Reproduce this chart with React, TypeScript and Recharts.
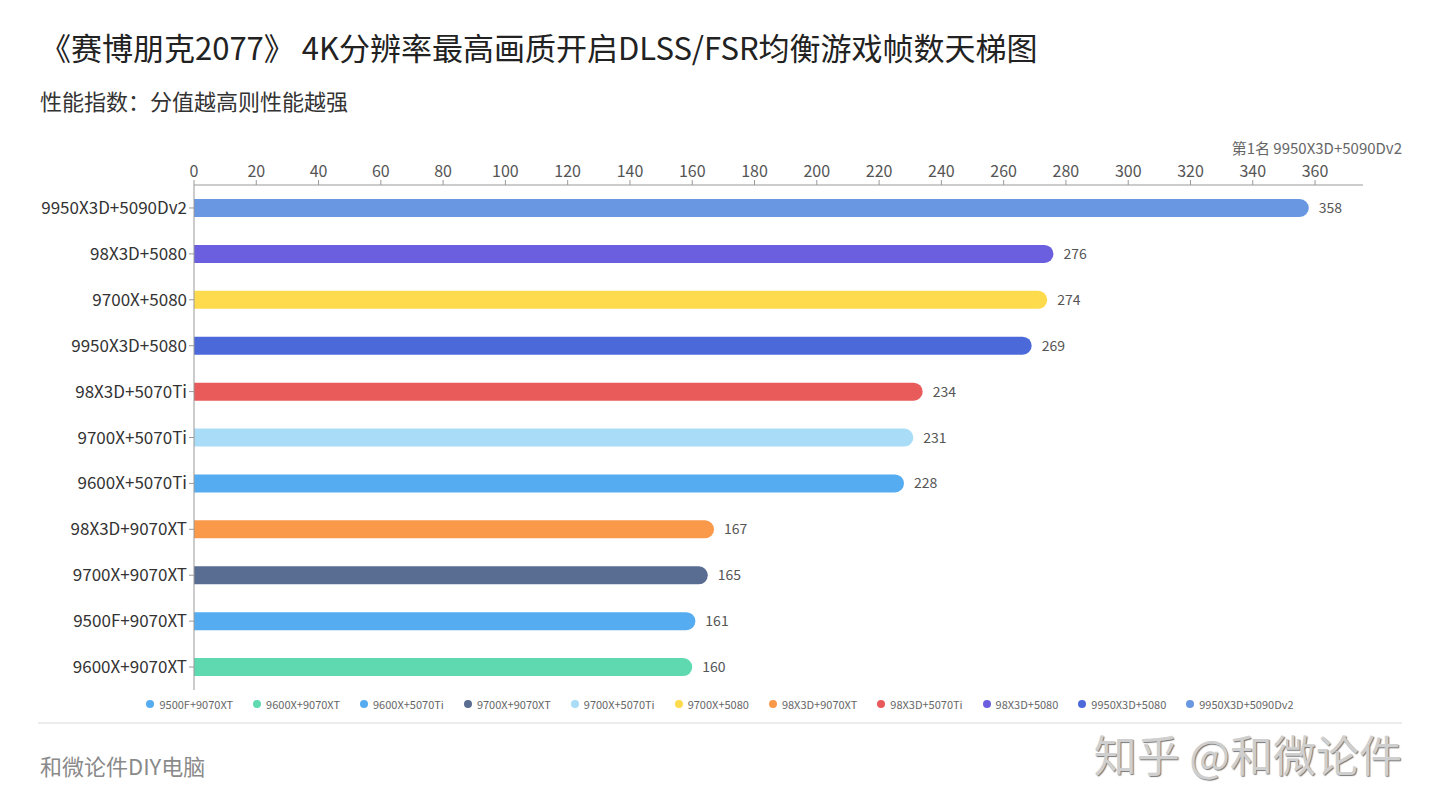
import { BarChart, Bar, XAxis, YAxis, Cell, LabelList } from 'recharts';

// chart rows, top to bottom
const configs = [
    '9950X3D+5090Dv2',
    '98X3D+5080',
    '9700X+5080',
    '9950X3D+5080',
    '98X3D+5070Ti',
    '9700X+5070Ti',
    '9600X+5070Ti',
    '98X3D+9070XT',
    '9700X+9070XT',
    '9500F+9070XT',
    '9600X+9070XT',
];
const fps = [358, 276, 274, 269, 234, 231, 228, 167, 165, 161, 160];
const barColors = [
    '#6a97e2',
    '#6b5fe0',
    '#fedb4d',
    '#4b69d9',
    '#e95b5b',
    '#a9ddf7',
    '#56acf0',
    '#fb994b',
    '#596d93',
    '#56acf0',
    '#5fdab0',
];
// legend order as shown under the chart
const legendOrder = [
    '9500F+9070XT',
    '9600X+9070XT',
    '9600X+5070Ti',
    '9700X+9070XT',
    '9700X+5070Ti',
    '9700X+5080',
    '98X3D+9070XT',
    '98X3D+5070Ti',
    '98X3D+5080',
    '9950X3D+5080',
    '9950X3D+5090Dv2',
];
const xTicks = [0, 20, 40, 60, 80, 100, 120, 140, 160, 180, 200, 220, 240, 260, 280, 300, 320, 340, 360];

const font = '"Noto Sans CJK SC", "Noto Sans", sans-serif';

export default function App() {
    const chartData = configs.map((name, i) => ({ name, value: fps[i], fill: barColors[i] }));
    const legendItems = legendOrder.map(name => chartData.find(d => d.name === name)!);

    return (
        <div
            style={{
                position: 'fixed',
                left: 0,
                top: 0,
                width: 1440,
                height: 811,
                background: '#fff',
                fontFamily: font,
                overflow: 'hidden',
            }}
        >
            <div style={{ position: 'absolute', left: 40, top: 24, fontSize: 31, color: '#222', whiteSpace: 'nowrap' }}>
                《赛博朋克2077》 4K分辨率最高画质开启DLSS/FSR均衡游戏帧数天梯图
            </div>
            <div style={{ position: 'absolute', left: 40, top: 84, fontSize: 22, color: '#333', whiteSpace: 'nowrap' }}>
                性能指数：分值越高则性能越强
            </div>
            <div style={{ position: 'absolute', right: 38, top: 137, fontSize: 15, color: '#666', whiteSpace: 'nowrap' }}>
                第1名 9950X3D+5090Dv2
            </div>

            <div style={{ position: 'absolute', left: 0, top: 0 }}>
                <BarChart
                    width={1440}
                    height={811}
                    data={chartData}
                    layout="vertical"
                    margin={{ top: 155, right: 77, bottom: 121, left: 0 }}
                    barSize={18}
                >
                    <XAxis
                        type="number"
                        orientation="top"
                        domain={[0, 375.4]}
                        ticks={xTicks}
                        height={30}
                        tick={{ fontSize: 16, fill: '#555', fontFamily: font }}
                        stroke="#999"
                        tickSize={5}
                        tickMargin={3}
                    />
                    <YAxis
                        type="category"
                        dataKey="name"
                        width={194}
                        tick={{ fontSize: 17, fill: '#333', fontFamily: font }}
                        stroke="#999"
                        tickSize={5}
                        tickMargin={2}
                    />
                    <Bar dataKey="value" radius={[0, 9, 9, 0]} isAnimationActive={false}>
                        {chartData.map((entry, index) => (
                            <Cell key={`cell-${index}`} fill={entry.fill} />
                        ))}
                        <LabelList
                            dataKey="value"
                            position="right"
                            offset={10}
                            style={{ fontSize: 14, fill: '#555', fontFamily: font }}
                        />
                    </Bar>
                </BarChart>
            </div>

            <div
                style={{
                    position: 'absolute',
                    left: 0,
                    width: 1440,
                    top: 696,
                    display: 'flex',
                    justifyContent: 'center',
                    gap: 20,
                    fontSize: 11,
                    color: '#666',
                    whiteSpace: 'nowrap',
                }}
            >
                {legendItems.map((item) => (
                    <div key={item.name} style={{ display: 'flex', alignItems: 'center', gap: 5 }}>
                        <span
                            style={{ width: 8, height: 8, borderRadius: 4, background: item.fill, display: 'inline-block' }}
                        />
                        <span>{item.name}</span>
                    </div>
                ))}
            </div>

            <div style={{ position: 'absolute', left: 38, top: 722, width: 1364, height: 2, background: '#ececec' }} />
            <div style={{ position: 'absolute', left: 40, top: 749, fontSize: 22, color: '#8a8a8a', whiteSpace: 'nowrap' }}>
                和微论件DIY电脑
            </div>
            <div
                style={{
                    position: 'absolute',
                    right: 38,
                    top: 722,
                    fontSize: 43,
                    color: '#cfcfcf',
                    textShadow: '1px 1px 1px #777',
                    whiteSpace: 'nowrap',
                }}
            >
                知乎 @和微论件
            </div>
        </div>
    );
}
